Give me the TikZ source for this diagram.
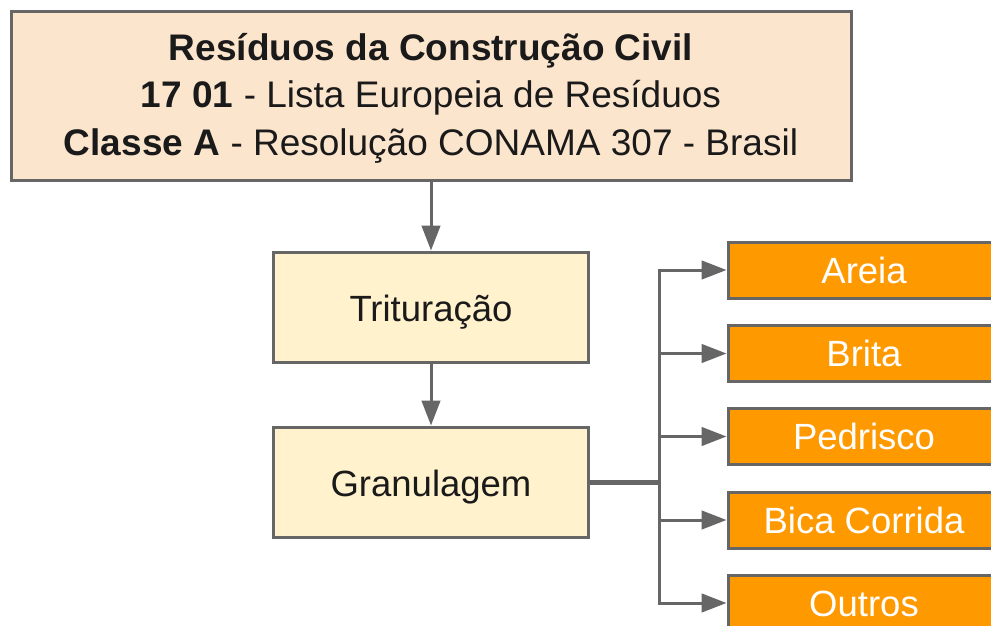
\documentclass[tikz,border=0pt]{standalone}
\usepackage{fontspec}
\setmainfont{Liberation Sans}
\usetikzlibrary{arrows.meta}
\definecolor{borderc}{HTML}{666666}
\definecolor{topfill}{HTML}{FCE5CD}
\definecolor{midfill}{HTML}{FFF2CC}
\definecolor{orangefill}{HTML}{FF9900}
\definecolor{textc}{HTML}{1A1A1A}
\tikzset{
  basebox/.style={draw=borderc, line width=3pt, inner sep=0pt, align=center, text=textc},
  topbox/.style={basebox, fill=topfill, minimum width=840pt, minimum height=168pt, font=\fontsize{37}{47.5}\selectfont},
  midbox/.style={basebox, fill=midfill, minimum width=315pt, minimum height=110pt, text height=29pt, text depth=0pt, font=\fontsize{36.5}{44}\selectfont},
  outbox/.style={basebox, fill=orangefill, text=white, minimum width=272pt, minimum height=56pt, text height=26pt, text depth=0pt, font=\fontsize{36.5}{44}\selectfont},
  conn/.style={draw=borderc, line width=3pt, -{Triangle[length=25pt,width=18.5pt]}},
}
\begin{document}
\begin{tikzpicture}[x=1pt,y=-1pt]
\clip (0,0) rectangle (991,626);
\fill[white] (0,0) rectangle (991,626);
\node[topbox] (top) at (431,96) {\rule{0pt}{39pt}\textbf{Resíduos da Construção Civil}\\\textbf{17 01} - Lista Europeia de Resíduos\\\textbf{Classe A} - Resolução CONAMA 307 - Brasil\rule[-16pt]{0pt}{16pt}};
\node[midbox] (trit) at (431,307) {Trituração};
\node[midbox] (gran) at (431,482) {Granulagem};
\node[outbox] (areia) at (864,270) {Areia};
\node[outbox] (brita) at (864,353.5) {Brita};
\node[outbox] (pedr) at (864,436.5) {Pedrisco};
\node[outbox] (bica) at (864,520) {Bica Corrida};
\node[outbox] (outr) at (864,603) {Outros};
\coordinate (j) at (659,482);
\draw[conn] (top.south) -- (trit.north);
\draw[conn] (trit.south) -- (gran.north);
\draw[draw=borderc, line width=5pt] (gran.east) -- ([xshift=1.5pt]j);
\foreach \t in {areia,brita,pedr,bica,outr}{
  \draw[conn, line join=miter] (j) |- (\t.west);
}
\end{tikzpicture}
\end{document}
